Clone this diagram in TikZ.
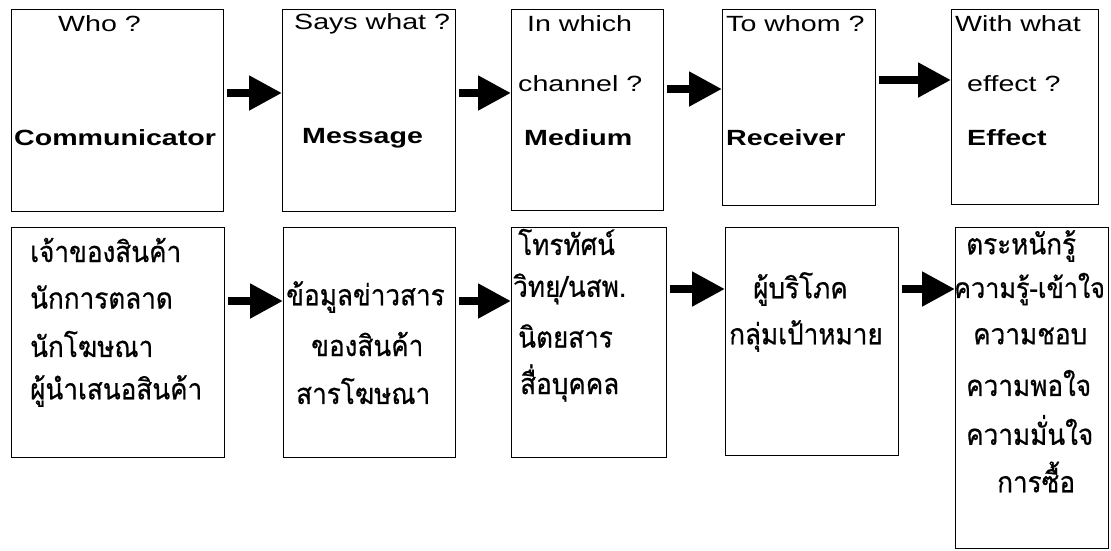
\documentclass[tikz,border=0pt]{standalone}
\usepackage{fontspec}
\setmainfont{Liberation Sans}
\newfontfamily\en{Liberation Sans}[FakeStretch=1.3]
\newfontfamily\thai[Script=Thai,FakeStretch=0.9,FakeBold=0.6]{Loma}
\usetikzlibrary{arrows.meta}
\begin{document}
\begin{tikzpicture}[x=1pt,y=-1pt,
  box/.style={draw, line width=1.3pt, inner sep=0pt, anchor=north west},
  ent/.style={font=\en\fontsize{22}{26}\selectfont, inner sep=0pt, anchor=west},
  enb/.style={font=\en\bfseries\fontsize{22}{26}\selectfont, inner sep=0pt, anchor=west},
  th/.style={font=\thai\fontsize{29}{32}\selectfont, inner sep=0pt, anchor=west},
  arr/.style={line width=8pt, -{Triangle[length=33pt,width=33pt]}, shorten <=3pt}
]
\useasboundingbox (0,0) rectangle (1111,550);
% top row boxes
\node[box, minimum width=212pt, minimum height=202pt] (t1) at (11,9) {};
\node[box, minimum width=173pt, minimum height=202pt] (t2) at (282,9) {};
\node[box, minimum width=152pt, minimum height=201pt] (t3) at (511,9) {};
\node[box, minimum width=153pt, minimum height=196pt] (t4) at (722,9) {};
\node[box, minimum width=147pt, minimum height=195pt] (t5) at (951,9) {};
% bottom row boxes
\node[box, minimum width=213pt, minimum height=230pt] (b1) at (11,227) {};
\node[box, minimum width=172pt, minimum height=230pt] (b2) at (283,227) {};
\node[box, minimum width=155pt, minimum height=230pt] (b3) at (511,227) {};
\node[box, minimum width=173pt, minimum height=228pt] (b4) at (725,227) {};
\node[box, minimum width=153pt, minimum height=321pt] (b5) at (955,227) {};
% top texts
\node[ent] (who) at (58,24) {Who ?};
\node[enb] (comm) at (14,138) {Communicator};
\node[ent] (says) at (294,24) {Says what ?};
\node[enb] (msg) at (302,138) {Message};
\node[ent] (inw) at (527,24) {In which};
\node[ent] (chan) at (518,84) {channel ?};
\node[enb] (med) at (524,138) {Medium};
\node[ent] (tow) at (726,24) {To whom ?};
\node[enb] (rec) at (726,138) {Receiver};
\node[ent] (with) at (955,24) {With what};
\node[ent] (eff) at (967,84) {effect ?};
\node[enb] (effb) at (967,138) {Effect};
% bottom texts
\node[th] (p1) at (30,250) {เจ้าของสินค้า};
\node[th] (p2) at (30,297) {นักการตลาด};
\node[th] (p3) at (30,344) {นักโฆษณา};
\node[th] (p4) at (30,391) {ผู้นำเสนอสินค้า};
\node[th] (m1) at (286,297) {ข้อมูลข่าวสาร};
\node[th] (m2) at (311,344) {ของสินค้า};
\node[th] (m3) at (296,391) {สารโฆษณา};
\node[th] (c1) at (518,242) {โทรทัศน์};
\node[th] (c2) at (513,289) {วิทยุ/นสพ.};
\node[th] (c3) at (518,336) {นิตยสาร};
\node[th] (c4) at (520,383) {สื่อบุคคล};
\node[th] (r1) at (753,289) {ผู้บริโภค};
\node[th] (r2) at (729,336) {กลุ่มเป้าหมาย};
\node[th] (e1) at (966,246) {ตระหนักรู้};
\node[th, font=\thai\fontsize{28}{32}\selectfont] (e2) at (954,289) {ความรู้-เข้าใจ};
\node[th] (e3) at (973,336) {ความชอบ};
\node[th] (e4) at (966,383) {ความพอใจ};
\node[th] (e5) at (966,430) {ความมั่นใจ};
\node[th] (e6) at (997,477) {การซื้อ};
% arrow levels
\coordinate (ya) at (0,93);
\coordinate (yb) at (0,89);
\coordinate (yc) at (0,80);
\coordinate (yd) at (0,301);
\coordinate (ye) at (0,289);
\draw[arr] (t1.east |- ya) -- (t2.west |- ya);
\draw[arr] (t2.east |- ya) -- (t3.west |- ya);
\draw[arr] (t3.east |- yb) -- (t4.west |- yb);
\draw[arr] (t4.east |- yc) -- (t5.west |- yc);
\draw[arr] (b1.east |- yd) -- (b2.west |- yd);
\draw[arr] (b2.east |- yd) -- (b3.west |- yd);
\draw[arr] (b3.east |- ye) -- (b4.west |- ye);
\draw[arr] (b4.east |- ye) -- (b5.west |- ye);
\end{tikzpicture}
\end{document}
